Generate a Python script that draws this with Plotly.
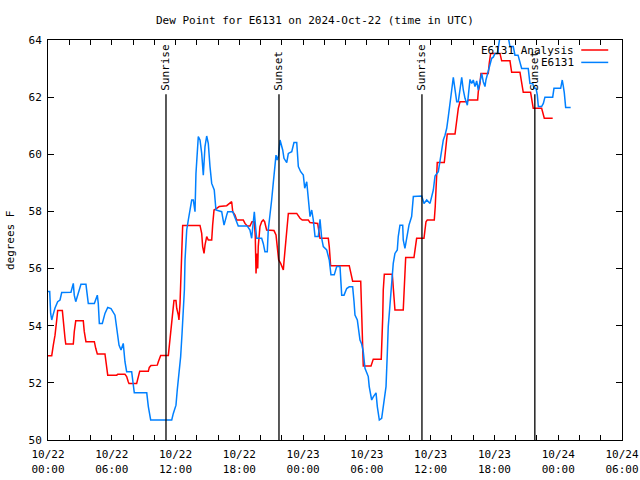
import pandas as pd
import plotly.graph_objects as go

# ---------------- data ----------------
start = pd.Timestamp("2024-10-22 00:00")

# E6131 observations: hours since 2024-10-22 00:00 UTC, dew point (F)
obs_hours = [0.00, 0.16, 0.25, 0.35, 0.47, 0.66, 0.91, 1.13, 1.29, 2.16, 2.38, 2.47, 2.61, 2.85, 3.10,
             3.57, 3.79, 4.36, 4.64, 4.73, 4.83, 5.11, 5.36, 5.62, 5.93, 6.30, 6.46, 6.68, 6.87, 7.08,
             7.24, 7.40, 7.87, 8.12, 9.29, 9.44, 9.66, 11.64, 11.79, 12.04, 12.16, 12.32, 12.48, 12.61,
             12.73, 12.83, 12.89, 13.05, 13.20, 13.36, 13.52, 13.67, 13.83, 13.92, 14.14, 14.30, 14.46,
             14.61, 14.77, 14.93, 15.08, 15.24, 15.40, 15.64, 15.80, 16.34, 16.56, 16.81, 16.91, 17.38,
             17.59, 17.90, 18.75, 19.00, 19.16, 19.31, 19.41, 19.54, 19.63, 20.10, 20.25, 20.41, 20.63,
             20.72, 20.88, 21.04, 21.19, 21.35, 21.45, 21.57, 21.70, 21.83, 21.98, 22.08, 22.20, 22.46,
             22.61, 22.93, 23.14, 23.40, 23.55, 23.77, 24.02, 24.15, 24.34, 24.49, 24.65, 24.81, 24.96,
             25.12, 25.43, 25.59, 25.75, 25.90, 26.22, 26.46, 26.62, 26.93, 27.16, 27.47, 27.63, 27.85,
             28.10, 28.34, 28.66, 28.79, 28.88, 29.10, 29.19, 29.35, 29.51, 29.66, 29.82, 29.98, 30.13,
             30.22, 30.45, 30.60, 30.86, 30.98, 31.17, 31.39, 31.61, 31.80, 31.92, 32.01, 32.17, 32.33,
             32.48, 32.64, 32.86, 32.95, 33.11, 33.37, 33.42, 33.58, 33.74, 33.96, 34.21, 34.37, 35.16,
             35.37, 35.63, 35.94, 36.25, 36.41, 36.72, 36.88, 37.04, 37.19, 37.35, 37.51, 37.66, 37.82,
             37.98, 38.13, 38.29, 38.45, 38.60, 38.76, 38.92, 39.07, 39.23, 39.45, 39.58, 39.70, 39.86,
             40.01, 40.17, 40.33, 40.48, 40.64, 40.80, 40.95, 41.11, 41.20, 41.33, 41.51, 41.74, 41.89,
             42.05, 42.27, 42.36, 42.52, 43.30, 43.46, 43.77, 43.93, 44.22, 44.40, 44.56, 45.18, 45.34,
             45.60, 45.72, 45.91, 46.03, 46.13, 46.44, 46.60, 46.75, 47.48, 47.60, 48.23, 48.38, 48.47,
             48.57, 48.70, 49.17]
obs_dewpt = [55.20, 55.20, 54.43, 54.20, 54.37, 54.62, 54.84, 54.90, 55.16, 55.17, 55.48, 55.07, 54.84, 55.13, 55.45,
             55.45, 54.78, 54.78, 55.07, 54.78, 54.08, 54.08, 54.43, 54.64, 54.60, 54.37, 53.85, 53.32, 53.15, 53.38,
             52.74, 52.39, 52.39, 51.65, 51.65, 51.17, 50.70, 50.70, 50.93, 51.22, 51.75, 52.34, 52.92, 53.73,
             54.40, 55.25, 56.30, 57.35, 57.70, 58.11, 58.40, 58.40, 57.99, 59.33, 60.62, 60.50, 60.03,
             59.27, 60.27, 60.64, 60.38, 59.57, 58.98, 58.75, 58.05, 57.99, 57.52, 57.87, 57.99, 57.99,
             57.76, 57.49, 57.49, 57.35, 57.06, 57.70, 57.99, 57.41, 57.06, 57.06, 56.88, 56.59, 56.59,
             57.35, 57.82, 58.40, 58.98, 59.68, 59.97, 59.80, 59.97, 60.50, 60.33, 60.15, 59.86, 59.71,
             60.03, 60.09, 60.41, 60.41, 59.57, 59.39, 59.27, 58.81, 59.04, 58.46, 57.82, 58.05, 57.70,
             57.12, 57.12, 57.72, 57.06, 56.77, 56.65, 56.30, 55.78, 55.78, 56.07, 56.07, 55.07, 55.07,
             55.30, 55.36, 55.36, 54.84, 54.37, 54.20, 53.91, 53.50, 53.36, 53.09, 52.51, 52.36, 52.22,
             51.87, 51.40, 51.51, 51.65, 51.17, 50.70, 50.76, 51.28, 51.87, 53.03, 53.97, 54.72, 55.48,
             56.18, 56.53, 56.65, 57.12, 57.52, 57.52, 57.00, 56.71, 57.12, 57.52, 57.82, 58.52, 58.54,
             58.28, 58.40, 58.28, 58.75, 59.24, 59.39, 59.80, 60.15, 60.50, 60.67, 60.91, 61.32, 61.72,
             62.25, 62.69, 62.25, 61.84, 61.84, 62.31, 62.69, 62.25, 61.96, 61.72, 62.37, 62.62, 62.48,
             62.60, 62.37, 62.57, 62.25, 62.60, 62.83, 62.54, 62.37, 62.60, 62.78, 63.07, 63.36, 63.40,
             63.53, 63.53, 63.77, 64.10, 64.10, 63.77, 63.77, 63.47, 63.47, 63.18, 63.00, 63.00, 62.48,
             62.48, 62.31, 62.31, 62.08, 61.67, 61.67, 61.78, 62.00, 62.00, 62.31, 62.31, 62.60, 62.40,
             62.16, 61.64, 61.64]

# E6131 Analysis: hours since start, dew point (F)
ana_hours = [0.00, 0.35, 0.50, 0.66, 0.82, 0.91, 1.35, 1.44, 1.60, 1.67, 2.38, 2.47, 2.61, 3.32, 3.41,
             3.57, 4.36, 4.49, 4.64, 5.36, 5.46, 5.62, 6.46, 6.56, 7.24, 7.40, 7.55, 7.62, 8.34, 8.49,
             8.63, 9.44, 9.53, 9.69, 10.28, 10.38, 10.60, 11.32, 11.41, 11.54, 11.64, 11.73, 11.85, 12.04,
             12.11, 12.26, 12.32, 12.42, 12.51, 12.58, 12.67, 14.30, 14.46, 14.55, 14.68, 14.77, 14.93,
             15.08, 15.40, 15.49, 15.62, 15.87, 16.11, 16.81, 17.06, 17.28, 17.38, 17.59, 17.75, 18.37,
             18.53, 18.75, 19.00, 19.19, 19.41, 19.50, 19.57, 19.66, 19.73, 19.78, 19.94, 20.10, 20.25,
             20.38, 20.57, 21.26, 21.45, 21.57, 21.70, 21.89, 22.14, 22.20, 22.29, 22.46, 22.61, 23.40,
             23.71, 23.92, 24.49, 24.65, 25.37, 25.59, 26.37, 26.46, 26.59, 28.34, 28.47, 28.66, 29.42,
             29.51, 29.61, 29.66, 30.39, 30.55, 30.60, 31.35, 31.42, 31.49, 31.54, 31.64, 32.39, 32.48,
             32.64, 33.42, 33.49, 33.58, 33.65, 34.43, 34.52, 34.68, 35.37, 35.56, 35.68, 36.34, 36.43,
             36.50, 36.56, 36.62, 37.28, 37.44, 37.56, 38.29, 38.45, 38.60, 38.76, 39.45, 39.54, 40.42,
             40.48, 40.64, 40.73, 41.42, 41.51, 41.64, 42.52, 42.68, 43.46, 43.62, 44.40, 44.56, 44.71,
             45.40, 45.49, 45.65, 46.44, 46.60, 46.69, 47.48]
ana_dewpt = [52.95, 52.95, 53.32, 53.67, 54.20, 54.53, 54.53, 54.08, 53.56, 53.36, 53.36, 53.79, 54.17, 54.17, 53.80,
             53.44, 53.44, 53.21, 53.01, 53.01, 52.74, 52.27, 52.27, 52.30, 52.30, 52.22, 52.04, 51.98, 51.98, 52.22,
             52.41, 52.41, 52.54, 52.61, 52.62, 52.74, 52.96, 52.96, 53.27, 53.85, 54.26, 54.61, 54.88, 54.88,
             54.61, 54.37, 54.20, 54.78, 55.83, 56.88, 57.51, 57.51, 57.23, 56.77, 56.53, 56.82, 57.12,
             57.00, 57.00, 57.52, 58.05, 58.11, 58.17, 58.20, 58.28, 58.34, 57.99, 57.87, 57.70, 57.70,
             57.58, 57.49, 57.49, 57.64, 57.64, 57.12, 55.83, 56.53, 56.00, 56.77, 57.47, 57.64, 57.70,
             57.64, 57.35, 57.33, 57.18, 56.77, 56.30, 56.18, 55.95, 56.24, 56.60, 57.35, 57.93, 57.93,
             57.76, 57.70, 57.70, 57.61, 57.58, 57.06, 57.06, 56.77, 56.10, 56.10, 55.83, 55.56, 55.56,
             54.08, 53.15, 52.59, 52.59, 52.80, 52.83, 52.83, 53.32, 54.31, 55.25, 55.80, 55.80, 55.25,
             54.55, 54.55, 55.02, 55.93, 56.39, 56.39, 56.60, 57.06, 57.06, 57.64, 57.70, 57.70, 58.17,
             58.87, 59.22, 59.71, 59.71, 60.27, 60.71, 60.71, 61.14, 61.61, 61.84, 61.84, 61.90, 61.90,
             62.19, 62.48, 62.83, 62.83, 63.18, 63.53, 63.53, 63.27, 63.27, 62.87, 62.87, 62.54, 62.17,
             62.17, 61.90, 61.61, 61.61, 61.43, 61.26, 61.26]

# Sunrise / sunset (hours since start)
sun_labels = ["Sunrise", "Sunset", "Sunrise", "Sunset"]
sun_hours = [11.10, 21.73, 35.18, 45.80]

# Tick labels
tick_hours = [0, 6, 12, 18, 24, 30, 36, 42, 48, 54]
tick_text = ["10/22<br>00:00", "10/22<br>06:00", "10/22<br>12:00", "10/22<br>18:00",
             "10/23<br>00:00", "10/23<br>06:00", "10/23<br>12:00", "10/23<br>18:00",
             "10/24<br>00:00", "10/24<br>06:00"]
y_ticks = [50, 52, 54, 56, 58, 60, 62, 64]

series_names = ["E6131 Analysis", "E6131"]
series_colors = ["#ff0000", "#0080ff"]

# ---------------- figure ----------------
def to_time(hours):
    return start + pd.to_timedelta(pd.Series(hours), unit="h")

FONT = "DejaVu Sans Mono"

fig = go.Figure()
fig.add_trace(go.Scatter(x=to_time(ana_hours), y=ana_dewpt, mode="lines",
                         name=series_names[0], line=dict(color=series_colors[0], width=1.5)))
fig.add_trace(go.Scatter(x=to_time(obs_hours), y=obs_dewpt, mode="lines",
                         name=series_names[1], line=dict(color=series_colors[1], width=1.5)))

sun_times = to_time(sun_hours)
for lbl, t in zip(sun_labels, sun_times):
    fig.add_shape(type="line", xref="x", yref="y", x0=t, x1=t, y0=50, y1=62.1,
                  line=dict(color="black", width=1.3))
    fig.add_annotation(x=t, y=62.15, xref="x", yref="y", text=lbl, textangle=-90,
                       showarrow=False, xanchor="center", yanchor="bottom",
                       font=dict(family=FONT, size=11, color="black"))

# custom gnuplot-style legend (text then sample line)
leg_rows = [0.975, 0.944]
for name, col, yy in zip(series_names, series_colors, leg_rows):
    fig.add_annotation(x=0.919, y=yy, xref="paper", yref="paper", text=name,
                       showarrow=False, xanchor="right", yanchor="middle",
                       font=dict(family=FONT, size=11, color="black"))
    fig.add_shape(type="line", xref="paper", yref="paper", x0=0.929, x1=0.976, y0=yy, y1=yy,
                  line=dict(color=col, width=1.5))

# y-axis title
fig.add_annotation(x=-0.066, y=0.5, xref="paper", yref="paper", text="degrees F",
                   textangle=-90, showarrow=False, xanchor="center", yanchor="middle",
                   font=dict(family=FONT, size=11, color="black"))

fig.update_layout(
    width=640, height=480,
    margin=dict(l=48, r=18, t=40, b=40, autoexpand=False),
    paper_bgcolor="white", plot_bgcolor="white",
    showlegend=False,
    font=dict(family=FONT, size=11, color="black"),
    title=dict(text="Dew Point for E6131 on 2024-Oct-22 (time in UTC)",
               x=0.492, xanchor="center", y=0.958, yanchor="middle", yref="container",
               automargin=False,
               font=dict(family=FONT, size=11, color="black")),
)
fig.update_xaxes(
    range=[start, start + pd.Timedelta(hours=54)],
    tickvals=to_time(tick_hours), ticktext=tick_text,
    ticks="inside", ticklen=5, tickwidth=1, tickcolor="black",
    minor=dict(dtick=2 * 3600 * 1000, ticks="inside", ticklen=5, tickcolor="black", tickwidth=1),
    showline=True, linecolor="black", linewidth=1, mirror="ticks",
    showgrid=False, zeroline=False, automargin=False,
    ticklabelstandoff=4,
    tickfont=dict(family=FONT, size=11, color="black"),
)
fig.update_yaxes(
    range=[50, 64], tickvals=y_ticks,
    ticks="inside", ticklen=6, tickwidth=1, tickcolor="black",
    showline=True, linecolor="black", linewidth=1, mirror="ticks",
    showgrid=False, zeroline=False, automargin=False,
    ticklabelstandoff=3,
    tickfont=dict(family=FONT, size=11, color="black"),
)

fig.write_html("out.html",
               config={"displayModeBar": False},
               post_script="document.body.style.margin='0';document.body.style.padding='0';"
                           "document.body.style.overflow='hidden';")
